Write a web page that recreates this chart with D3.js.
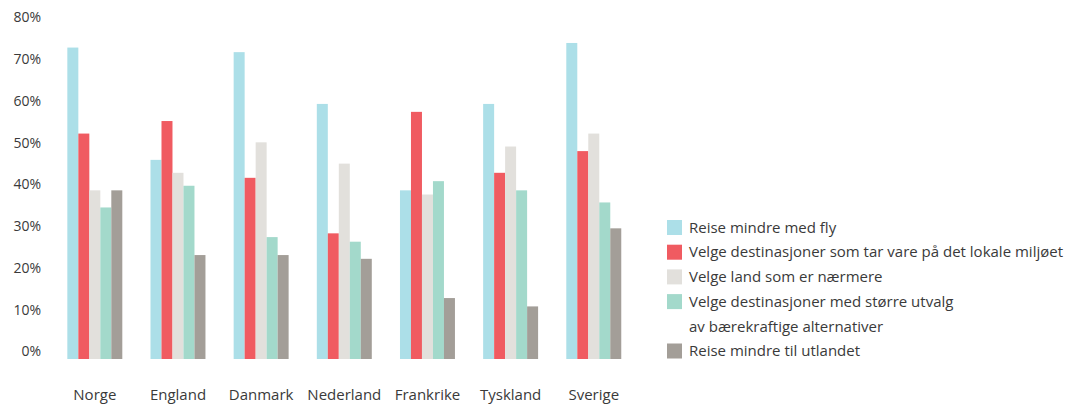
<!DOCTYPE html>
<html>
<head>
<meta charset="utf-8">
<script src="https://cdn.jsdelivr.net/npm/d3@7"></script>
<style>
  body { margin: 0; background: #fff; }
  text { font-family: "Open Sans", sans-serif; fill: #3a3a3a; }
</style>
</head>
<body>
<svg id="chart" width="1069" height="407"></svg>
<script>
// countries along the x axis
const countries = ["Norge", "England", "Danmark", "Nederland", "Frankrike", "Tyskland", "Sverige"];

// series names (legend), one value per country
const seriesNames = [
  "Reise mindre med fly",
  "Velge destinasjoner som tar vare på det lokale miljøet",
  "Velge land som er nærmere",
  "Velge destinasjoner med større utvalg\nav bærekraftige alternativer",
  "Reise mindre til utlandet"
];
const flyLess     = [72.8, 45.9, 71.7, 59.3, 38.6, 59.3, 73.9];
const localEnv    = [52.2, 55.2, 41.6, 28.3, 57.4, 42.8, 48.0];
const closer      = [38.6, 42.8, 50.1, 45.0, 37.6, 49.1, 52.2];
const sustainable = [34.5, 39.7, 27.4, 26.3, 40.8, 38.6, 35.7];
const travelLess  = [38.6, 23.1, 23.1, 22.2, 12.8, 10.8, 29.5];

const tickValues = [0, 10, 20, 30, 40, 50, 60, 70, 80];
const colors = ["#acdfe8", "#f05b61", "#e2e0dc", "#a3d9cb", "#a39e98"];

const seriesValues = [flyLess, localEnv, closer, sustainable, travelLess];

const svg = d3.select("#chart");

// y: label centres sit on the value, bars drop a bit below 0 like the original
const y = d3.scaleLinear().domain([0, 80]).range([351.5, 17.5]);
const baseDrop = 7.5;

const x0 = d3.scaleBand().domain(countries).range([53.2, 635.4]).paddingInner(0.339).paddingOuter(0.17);
const x1 = d3.scaleBand().domain(d3.range(seriesNames.length)).range([0, x0.bandwidth()]);

// y axis labels only (no line, no ticks)
const yAxis = d3.axisLeft(y).tickValues(tickValues).tickFormat(d => d + "%").tickSize(0).tickPadding(0);
svg.append("g")
  .attr("transform", "translate(41,0)")
  .call(yAxis)
  .call(g => g.select(".domain").remove())
  .call(g => g.selectAll("text")
    .style("font-family", '"Open Sans", sans-serif')
    .style("font-size", "14px")
    .attr("fill", "#3a3a3a"));

// bars
const groups = svg.append("g").selectAll("g")
  .data(countries)
  .join("g")
  .attr("transform", d => `translate(${x0(d)},0)`);

groups.selectAll("rect")
  .data((c, ci) => seriesValues.map((vals, si) => ({ si, v: vals[ci] })))
  .join("rect")
  .attr("x", d => x1(d.si))
  .attr("width", x1.bandwidth())
  .attr("y", d => y(d.v))
  .attr("height", d => y(0) + baseDrop - y(d.v))
  .attr("fill", d => colors[d.si]);

// x axis labels
const xAxis = d3.axisBottom(x0).tickSize(0).tickPadding(0);
svg.append("g")
  .attr("transform", "translate(0,389)")
  .call(xAxis)
  .call(g => g.select(".domain").remove())
  .call(g => g.selectAll("text")
    .style("font-family", '"Open Sans", sans-serif')
    .style("font-size", "15px")
    .attr("fill", "#3a3a3a"));

// legend
const rowH = 24.7;
let row = 0;
const legend = svg.append("g").attr("transform", "translate(667,220)");
seriesNames.forEach((name, i) => {
  const lines = name.split("\n");
  const g = legend.append("g").attr("transform", `translate(0,${row * rowH})`);
  g.append("rect").attr("width", 15).attr("height", 15).attr("fill", colors[i]);
  lines.forEach((ln, li) => {
    g.append("text")
      .attr("x", 22)
      .attr("y", 7.5 + li * rowH)
      .attr("dy", "0.35em")
      .style("font-size", "15px")
      .text(ln);
  });
  row += lines.length;
});
</script>
</body>
</html>
